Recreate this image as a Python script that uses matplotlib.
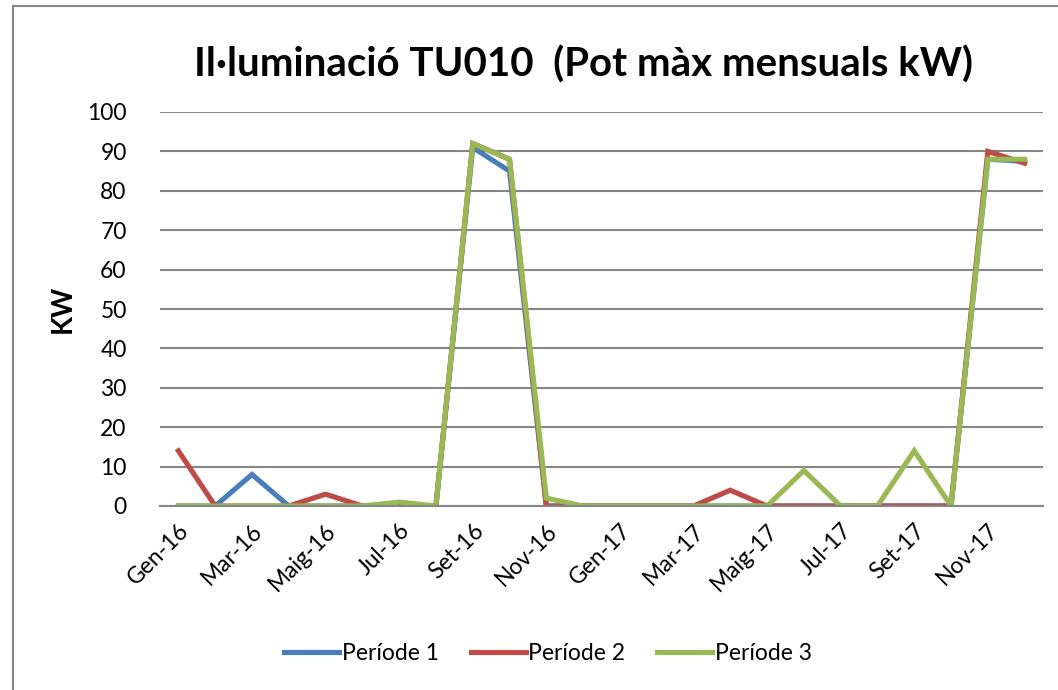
import numpy as np
import matplotlib
matplotlib.use('Agg')
import matplotlib.pyplot as plt
from matplotlib.lines import Line2D

plt.rcParams['font.family'] = ['Lato', 'DejaVu Sans']

# months Gen-16 .. Des-17
mesos = ['Gen', 'Feb', 'Mar', 'Abr', 'Maig', 'Jun', 'Jul', 'Ag', 'Set', 'Oct', 'Nov', 'Des']
labels = [m + '-16' for m in mesos] + [m + '-17' for m in mesos]

periode1 = [0, 0, 8, 0, 0, 0, 0, 0, 91, 85, 0, 0, 0, 0, 0, 0, 0, 0, 0, 0, 0, 0, 88, 87.5]
periode2 = [14, 0, 0, 0, 3, 0, 0, 0, 92, 88, 0, 0, 0, 0, 0, 4, 0, 0, 0, 0, 0, 0, 90, 87]
periode3 = [0, 0, 0, 0, 0, 0, 1, 0, 92, 88, 2, 0, 0, 0, 0, 0, 0, 9, 0, 0, 14, 0, 88, 88]

colors = ['#4A7EBB', '#BE4B48', '#98B954']
grey = '#868686'

fig = plt.figure(figsize=(10.58, 6.90), dpi=100, facecolor='white')
ax = fig.add_axes([160/1058, 1-506/690, (1043-160)/1058, (506-112)/690])

x = np.arange(len(labels))
ax.plot(x, periode1, color=colors[0], lw=3.7, label='Període 1', solid_joinstyle='miter')
ax.plot(x, periode2, color=colors[1], lw=3.7, label='Període 2', solid_joinstyle='miter')
ax.plot(x, periode3, color=colors[2], lw=3.7, label='Període 3', solid_joinstyle='miter')

ax.set_xlim(-0.5, len(labels)-0.5)
ax.set_ylim(0, 100)
ax.set_yticks(np.arange(0, 101, 10))
ax.yaxis.grid(True, color=grey, lw=1.5)
ax.set_axisbelow(True)
for s in ['top', 'left', 'right']:
    ax.spines[s].set_visible(False)
ax.spines['bottom'].set_color(grey)
ax.spines['bottom'].set_linewidth(1.5)
ax.tick_params(axis='y', length=0, pad=24, labelsize=16.5)
ax.tick_params(axis='x', length=0, pad=10, labelsize=16.5)
ax.set_xticks(x[::2])
ax.set_xticklabels(labels[::2], rotation=45, ha='right', va='top', rotation_mode='anchor')

ax.set_ylabel('KW', fontsize=20, fontweight='bold', labelpad=8)

fig.text(583/1058, 1-65/690, 'Il·luminació TU010  (Pot màx mensuals kW)',
         fontsize=29, fontweight='bold', ha='center', va='center')

fig.legend(loc='center', bbox_to_anchor=(548/1058, 1-654/690), ncol=3, frameon=False,
           fontsize=16.5, handlelength=2.4, handletextpad=0.1, columnspacing=1.4)

# chart area border (cropped on the right and bottom)
fig.add_artist(Line2D([13/1058, 13/1058], [0, 1-6/690], transform=fig.transFigure, color=grey, lw=1.5))
fig.add_artist(Line2D([13/1058, 1], [1-6/690, 1-6/690], transform=fig.transFigure, color=grey, lw=1.5))

plt.savefig('out.png')
